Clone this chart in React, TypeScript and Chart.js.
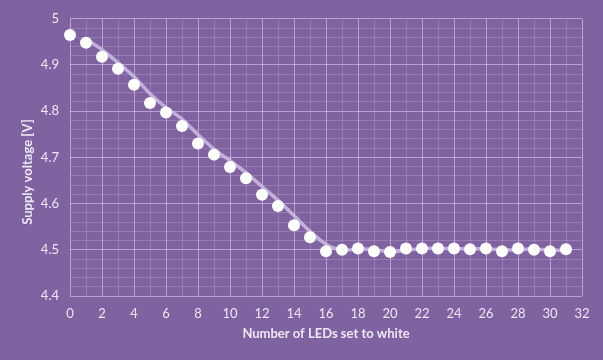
import React, { useEffect, useRef } from "react";
import { Chart, registerables } from "chart.js";
Chart.register(...registerables);

const ledCounts = [0, 1, 2, 3, 4, 5, 6, 7, 8, 9, 10, 11, 12, 13, 14, 15, 16, 17, 18, 19, 20, 21, 22, 23, 24, 25, 26, 27, 28, 29, 30, 31];
const supplyVoltage = [4.965, 4.948, 4.918, 4.892, 4.857, 4.818, 4.797, 4.768, 4.73, 4.706, 4.679, 4.655, 4.619, 4.595, 4.553, 4.527, 4.497, 4.5, 4.503, 4.497, 4.495, 4.503, 4.503, 4.503, 4.503, 4.501, 4.503, 4.497, 4.503, 4.5, 4.497, 4.501];
const trendCounts = [1, 2, 3, 4, 5, 6, 7, 8, 9, 10, 11, 12, 13, 14, 15, 16, 17, 18, 19, 20, 21, 22, 23, 24, 25, 26, 27, 28, 29, 30, 31];
const trendVoltage = [4.957, 4.933, 4.905, 4.875, 4.838, 4.808, 4.783, 4.749, 4.718, 4.693, 4.667, 4.637, 4.607, 4.574, 4.54, 4.512, 4.499, 4.502, 4.5, 4.496, 4.499, 4.503, 4.503, 4.503, 4.502, 4.502, 4.5, 4.5, 4.502, 4.499, 4.499];

const xTitle = "Number of LEDs set to white";
const yTitle = "Supply voltage [V]";

const BG = "#7F62A0";
const MAJOR = "rgba(230,215,245,0.55)";
const MINOR = "rgba(230,215,245,0.22)";
const TEXT = "#EEE6F6";

const yTitlePlugin = {
  id: "yTitlePlugin",
  afterDraw(chart: any) {
    const ctx = chart.ctx;
    ctx.save();
    ctx.translate(28, 172);
    ctx.rotate(-Math.PI / 2);
    ctx.fillStyle = TEXT;
    ctx.font = "bold 13px Lato";
    ctx.textAlign = "center";
    ctx.textBaseline = "middle";
    ctx.fillText(yTitle, 0, 0);
    ctx.restore();
  },
};

export default function App() {
  const ref = useRef<HTMLCanvasElement>(null);
  useEffect(() => {
    if (!ref.current) return;
    const chart = new Chart(ref.current, {
      type: "scatter",
      data: {
        datasets: [
          {
            type: "scatter",
            data: ledCounts.map((x, i) => ({ x, y: supplyVoltage[i] })),
            backgroundColor: "#FFFFFF",
            borderWidth: 0,
            pointRadius: 6,
            pointHoverRadius: 6,
            clip: false,
            order: 0,
          } as any,
          {
            type: "line",
            data: trendCounts.map((x, i) => ({ x, y: trendVoltage[i] })),
            borderColor: "rgba(205,190,228,0.85)",
            borderWidth: 3.5,
            pointRadius: 0,
            tension: 0.3,
            fill: false,
            clip: false,
            order: 1,
          } as any,
        ],
      },
      plugins: [yTitlePlugin],
      options: {
        responsive: false,
        animation: false,
        layout: { padding: { top: 16, right: 21, left: 0, bottom: 0 } },
        plugins: { legend: { display: false }, tooltip: { enabled: false } },
        scales: {
          x: {
            type: "linear",
            min: 0,
            max: 32,
            afterFit: (s: any) => { s.height = 64; },
            ticks: {
              stepSize: 1,
              autoSkip: false,
              maxRotation: 0,
              padding: 10,
              color: TEXT,
              font: { family: "Lato", size: 13 },
              callback: (v: any) => (Math.round(v) % 2 === 0 ? String(Math.round(v)) : ""),
            },
            grid: {
              drawTicks: false,
              color: (c: any) => (Math.round(c.tick.value) % 2 === 0 ? MAJOR : MINOR),
            },
            border: { display: false },
            title: {
              display: true,
              text: xTitle,
              color: TEXT,
              font: { family: "Lato", size: 13, weight: "bold" },
              padding: { top: 0, bottom: 18 },
            },
          },
          y: {
            type: "linear",
            min: 4.4,
            max: 5,
            afterFit: (s: any) => { s.width = 70; },
            ticks: {
              stepSize: 0.02,
              autoSkip: false,
              padding: 11,
              color: TEXT,
              font: { family: "Lato", size: 13 },
              callback: (v: any) => {
                const t = v * 10;
                return Math.abs(t - Math.round(t)) < 1e-6 ? String(Number(v.toFixed(1))) : "";
              },
            },
            grid: {
              drawTicks: false,
              color: (c: any) => {
                const t = c.tick.value * 10;
                return Math.abs(t - Math.round(t)) < 1e-6 ? MAJOR : MINOR;
              },
            },
            border: { display: false },
            title: { display: false },
          },
        },
      } as any,
    });
    return () => chart.destroy();
  }, []);
  return (
    <div style={{ position: "fixed", left: 0, top: 0, width: 603, height: 360, background: BG }}>
      <canvas ref={ref} width={603} height={360} style={{ display: "block" }} />
    </div>
  );
}
